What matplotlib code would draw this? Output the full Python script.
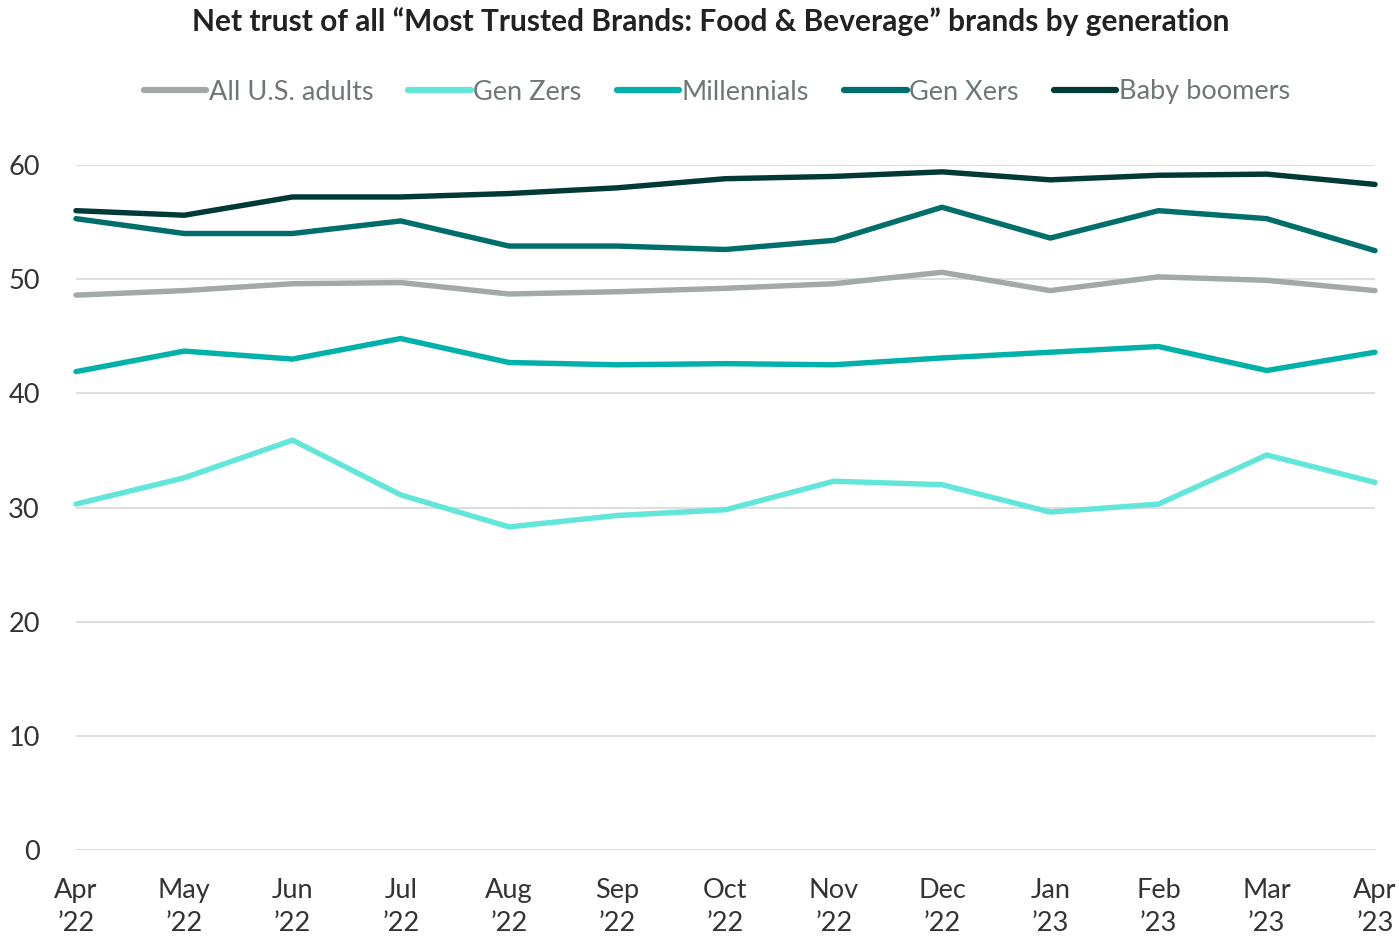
import matplotlib
matplotlib.use("Agg")
import matplotlib.pyplot as plt

plt.rcParams['font.family'] = ['Lato', 'DejaVu Sans']

months = ["Apr\n\u201922", "May\n\u201922", "Jun\n\u201922", "Jul\n\u201922", "Aug\n\u201922", "Sep\n\u201922",
          "Oct\n\u201922", "Nov\n\u201922", "Dec\n\u201922", "Jan\n\u201923", "Feb\n\u201923", "Mar\n\u201923", "Apr\n\u201923"]

all_adults = [48.6, 49.0, 49.6, 49.7, 48.7, 48.9, 49.2, 49.6, 50.6, 49.0, 50.2, 49.9, 49.0]
gen_z = [30.3, 32.6, 35.9, 31.1, 28.3, 29.3, 29.8, 32.3, 32.0, 29.6, 30.3, 34.6, 32.2]
millennials = [41.9, 43.7, 43.0, 44.8, 42.7, 42.5, 42.6, 42.5, 43.1, 43.6, 44.1, 42.0, 43.6]
gen_x = [55.3, 54.0, 54.0, 55.1, 52.9, 52.9, 52.6, 53.4, 56.3, 53.6, 56.0, 55.3, 52.5]
boomers = [56.0, 55.6, 57.2, 57.2, 57.5, 58.0, 58.8, 59.0, 59.4, 58.7, 59.1, 59.2, 58.3]

series = [
    ("All U.S. adults", all_adults, "#a3a9a7"),
    ("Gen Zers", gen_z, "#62e6d9"),
    ("Millennials", millennials, "#00b1a9"),
    ("Gen Xers", gen_x, "#006e6a"),
    ("Baby boomers", boomers, "#003a37"),
]

fig = plt.figure(figsize=(13.99, 9.36), dpi=100)
ax = fig.add_axes([76/1399, 1-850/936, (1375-76)/1399, (850-165)/936])

x = list(range(len(months)))
for name, vals, col in series:
    ax.plot(x, vals, color=col, lw=3.9, label=name, solid_capstyle='round', clip_on=False)

ax.set_xlim(0, len(months)-1)
ax.set_ylim(0, 60)
ax.set_yticks([0, 10, 20, 30, 40, 50, 60])
ax.set_xticks(x)
ax.set_xticklabels(months, fontsize=19.5, color="#333333", linespacing=1.4)
ax.tick_params(axis='y', labelsize=19.5, labelcolor="#333333", length=0, pad=26)
ax.tick_params(axis='x', length=0, pad=20)
ax.grid(axis='y', color="#dedede", lw=1.5)
ax.set_axisbelow(True)
for s in ax.spines.values():
    s.set_visible(False)

fig.text(0.508, 0.977, "Net trust of all \u201cMost Trusted Brands: Food & Beverage\u201d brands by generation",
         ha='center', va='center', fontsize=21.5, fontweight='bold', color="#222222")

leg = fig.legend(loc='center', bbox_to_anchor=(717/1399, 1-92/936), ncol=5, frameon=False,
                 fontsize=19.5, handlelength=2.3, handletextpad=0.1, columnspacing=1.3)
for t in leg.get_texts():
    t.set_color("#6f7776")
for h in leg.get_lines():
    h.set_linewidth(4.5)

fig.savefig("out.png", dpi=100)
